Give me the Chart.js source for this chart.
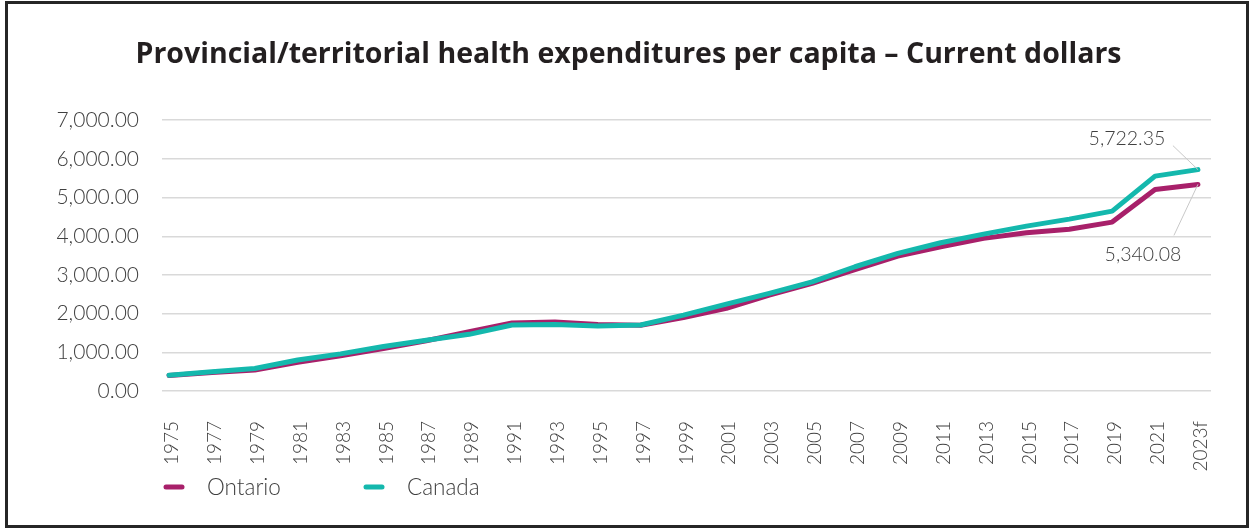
<!DOCTYPE html>
<html>
<head>
<meta charset="utf-8">
<title>Provincial/territorial health expenditures per capita</title>
<script src="https://cdn.jsdelivr.net/npm/chart.js@4/dist/chart.umd.min.js"></script>
<style>
  html, body { margin: 0; padding: 0; background: #ffffff; }
  #wrap { position: relative; width: 1250px; height: 529px; overflow: hidden; }
  #frame {
    position: absolute; left: 5px; top: 1px; width: 1238px; height: 521px;
    border: 3px solid #262626; pointer-events: none;
  }
  canvas { position: absolute; left: 0; top: 0; }
</style>
</head>
<body>
<div id="wrap">
  <canvas id="chart" width="1250" height="529"></canvas>
  <div id="frame"></div>
</div>
<script>
// Years (every second year) and their axis labels
const years = [1975, 1977, 1979, 1981, 1983, 1985, 1987, 1989, 1991, 1993, 1995, 1997, 1999,
               2001, 2003, 2005, 2007, 2009, 2011, 2013, 2015, 2017, 2019, 2021, 2023];
const yearLabels = ['1975', '1977', '1979', '1981', '1983', '1985', '1987', '1989', '1991', '1993',
                    '1995', '1997', '1999', '2001', '2003', '2005', '2007', '2009', '2011', '2013',
                    '2015', '2017', '2019', '2021', '2023f'];

// Provincial/territorial health expenditure per capita, current dollars
const ontarioValues = [400, 480, 540, 740, 910, 1100, 1300, 1530, 1760, 1785, 1720, 1700, 1900,
                       2135, 2480, 2780, 3140, 3488, 3730, 3945, 4090, 4180, 4366, 5210, 5340.08];
const canadaValues = [405, 500, 580, 800, 960, 1150, 1310, 1465, 1705, 1722, 1680, 1705, 1963,
                      2247, 2523, 2823, 3212, 3557, 3833, 4056, 4262, 4443, 4650, 5554, 5722.35];

const seriesNames = ['Ontario', 'Canada'];
const seriesColors = ['#a8206a', '#14b8ad'];

const FONT = 'Lato, "Noto Sans", sans-serif';
const TITLE_FONT = '"Open Sans", Lato, sans-serif';
const TEXT = '#404040';

function fmt(v) {
  return v.toLocaleString('en-US', { minimumFractionDigits: 2, maximumFractionDigits: 2 });
}

// Value callouts on the final (forecast) points, with thin leader lines
const endLabels = {
  id: 'endLabels',
  afterDatasetsDraw(chart) {
    const { ctx, scales: { x, y } } = chart;
    const last = years.length - 1;
    const px = x.getPixelForValue(years[last]);
    const callouts = [
      { value: canadaValues[last], dx: -71, dy: -31, lx: -25, ly: -24 },
      { value: ontarioValues[last], dx: -55, dy: 70, lx: -24, ly: 51 }
    ];
    ctx.save();
    ctx.font = '300 19.5px ' + FONT;
    ctx.fillStyle = TEXT;
    ctx.textAlign = 'center';
    ctx.textBaseline = 'middle';
    callouts.forEach(c => {
      const py = y.getPixelForValue(c.value);
      ctx.strokeStyle = '#c8c8c8';
      ctx.lineWidth = 1;
      ctx.beginPath();
      ctx.moveTo(px + c.lx, py + c.ly);
      ctx.lineTo(px, py);
      ctx.stroke();
      ctx.fillText(fmt(c.value), px + c.dx, py + c.dy);
    });
    ctx.restore();
  }
};

// Legend row under the axis labels
const legendRow = {
  id: 'legendRow',
  afterDraw(chart) {
    const { ctx, chartArea } = chart;
    const yLine = chartArea.bottom + 96;
    ctx.save();
    ctx.font = '300 22.5px ' + FONT;
    ctx.fillStyle = TEXT;
    ctx.textBaseline = 'middle';
    ctx.lineCap = 'round';
    ctx.lineWidth = 5;
    seriesNames.forEach((name, i) => {
      const x0 = chartArea.left + 4 + i * 200;
      ctx.strokeStyle = seriesColors[i];
      ctx.beginPath();
      ctx.moveTo(x0, yLine);
      ctx.lineTo(x0 + 16, yLine);
      ctx.stroke();
      ctx.fillText(name, x0 + 41, yLine + 1);
    });
    ctx.restore();
  }
};

const datasets = [ontarioValues, canadaValues].map((vals, i) => ({
  label: seriesNames[i],
  data: years.map((yr, k) => ({ x: yr, y: vals[k] })),
  borderColor: seriesColors[i],
  backgroundColor: seriesColors[i],
  borderWidth: 5,
  borderCapStyle: 'round',
  borderJoinStyle: 'round',
  pointRadius: 0,
  tension: 0,
  order: i === 0 ? 2 : 1
}));

new Chart(document.getElementById('chart'), {
  type: 'line',
  data: { datasets },
  options: {
    responsive: false,
    animation: false,
    events: [],
    layout: { padding: { left: 46, right: 39, top: 0, bottom: 58 } },
    plugins: {
      legend: { display: false },
      tooltip: { enabled: false },
      title: {
        display: true,
        text: 'Provincial/territorial health expenditures per capita \u2013 Current dollars',
        color: '#231f20',
        font: { family: TITLE_FONT, size: 28.5, weight: 'bold', lineHeight: 1.2 },
        padding: { top: 38, bottom: 48 }
      }
    },
    scales: {
      x: {
        type: 'linear',
        min: 1974.67,
        max: 2023.61,
        grid: { display: false },
        border: { display: false },
        afterBuildTicks(scale) { scale.ticks = years.map(v => ({ value: v })); },
        afterFit(scale) { scale.height = 80; },
        ticks: {
          autoSkip: false,
          minRotation: 90,
          maxRotation: 90,
          padding: 22,
          labelOffset: 3,
          color: TEXT,
          font: { family: FONT, size: 19, weight: '300' },
          callback: (v, i) => yearLabels[i]
        }
      },
      y: {
        min: 0,
        max: 7000,
        grid: { color: '#d9d9d9', lineWidth: 1.5, drawTicks: false },
        border: { display: false },
        afterFit(scale) { scale.width = 116; },
        ticks: {
          stepSize: 1000,
          padding: 23,
          color: TEXT,
          font: { family: FONT, size: 21, weight: '300' },
          callback: v => fmt(v)
        }
      }
    }
  },
  plugins: [endLabels, legendRow]
});
</script>
</body>
</html>
